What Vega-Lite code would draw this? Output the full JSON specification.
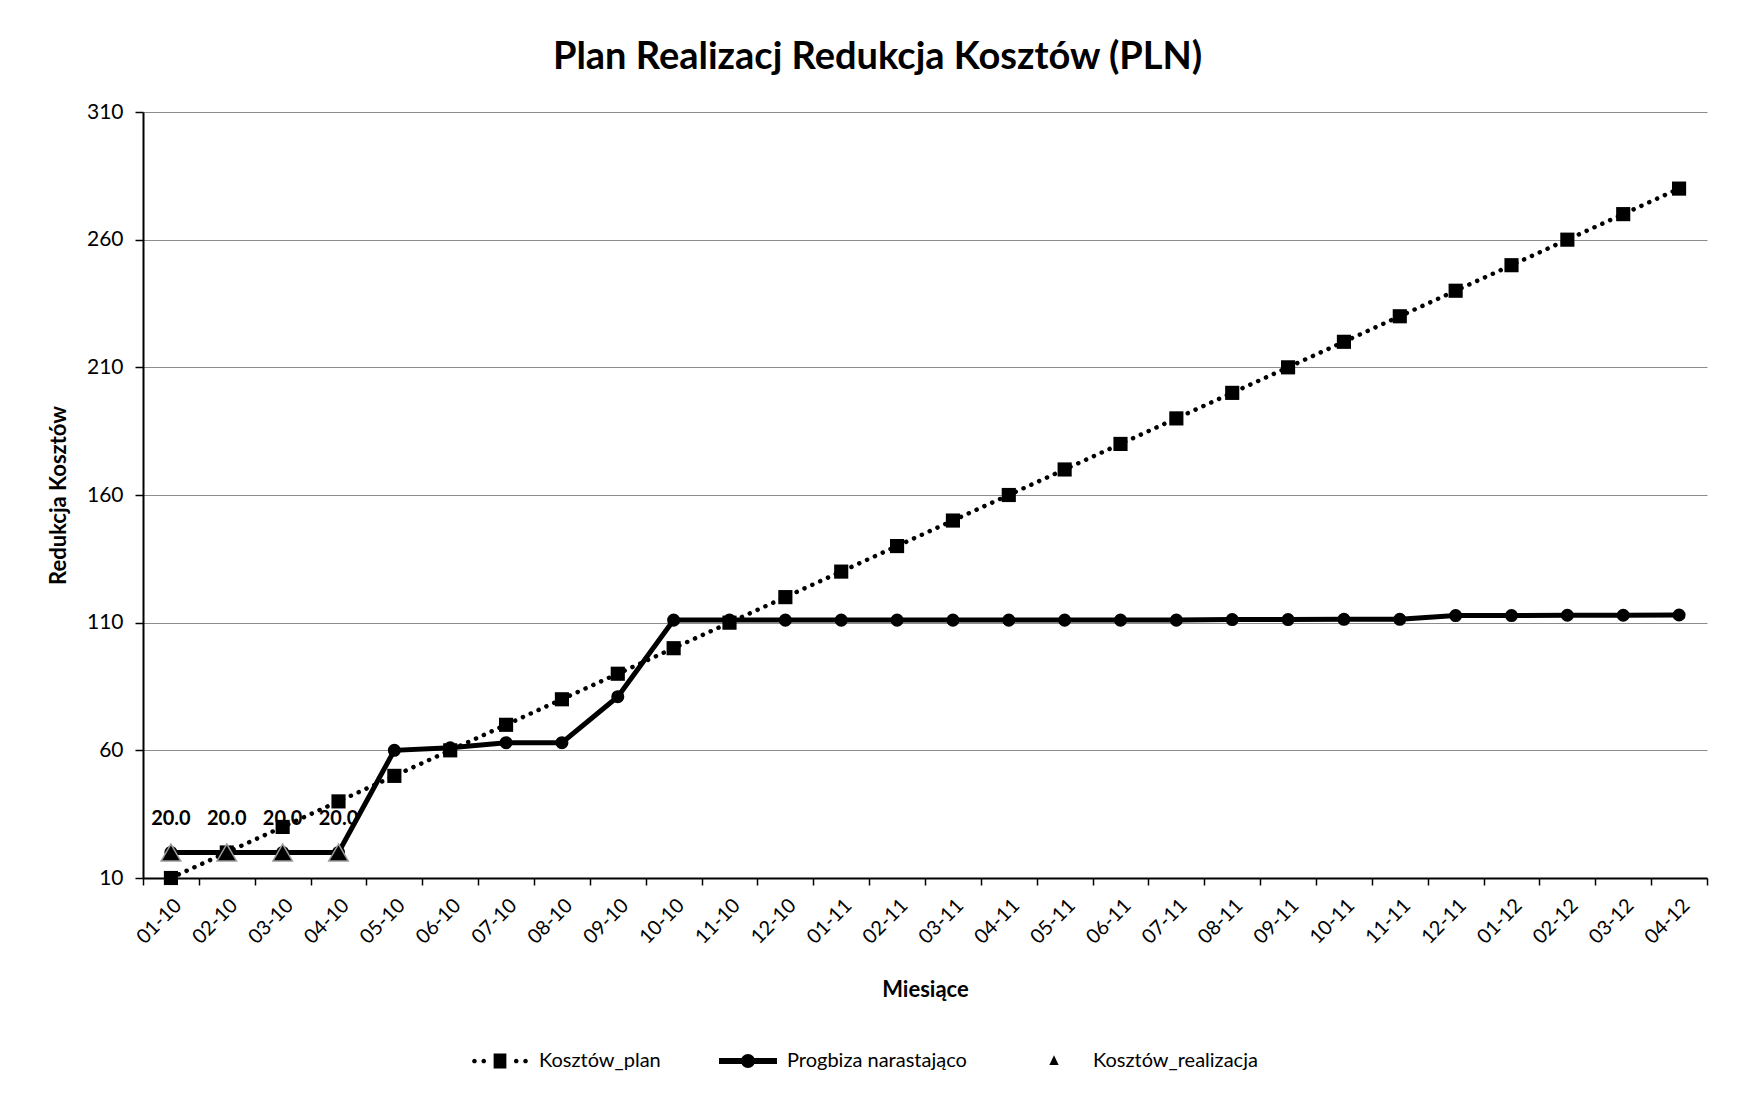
{
  "$schema": "https://vega.github.io/schema/vega-lite/v6.json",
  "width": 1564,
  "height": 766,
  "autosize": {"type": "none"},
  "padding": {"left": 143, "top": 112, "right": 30, "bottom": 217},
  "background": "white",
  "config": {
    "font": "Lato",
    "view": {"stroke": null},
    "axis": {"labelColor": "black", "titleColor": "black", "domainColor": "black", "tickColor": "black", "labelFont": "Lato", "titleFont": "Lato"}
  },
  "title": {
    "text": "Plan Realizacj Redukcja Kosztów (PLN)",
    "font": "Lato",
    "fontSize": 38,
    "fontWeight": "bold",
    "color": "black",
    "anchor": "middle",
    "frame": "bounds",
    "offset": 24
  },
  "data": {
    "values": [
      {"month": "01-10", "plan": 10, "prog": 20, "real": 20},
      {"month": "02-10", "plan": 20, "prog": 20, "real": 20},
      {"month": "03-10", "plan": 30, "prog": 20, "real": 20},
      {"month": "04-10", "plan": 40, "prog": 20, "real": 20},
      {"month": "05-10", "plan": 50, "prog": 60, "real": null},
      {"month": "06-10", "plan": 60, "prog": 61, "real": null},
      {"month": "07-10", "plan": 70, "prog": 63, "real": null},
      {"month": "08-10", "plan": 80, "prog": 63, "real": null},
      {"month": "09-10", "plan": 90, "prog": 81, "real": null},
      {"month": "10-10", "plan": 100, "prog": 111, "real": null},
      {"month": "11-10", "plan": 110, "prog": 111, "real": null},
      {"month": "12-10", "plan": 120, "prog": 111, "real": null},
      {"month": "01-11", "plan": 130, "prog": 111, "real": null},
      {"month": "02-11", "plan": 140, "prog": 111, "real": null},
      {"month": "03-11", "plan": 150, "prog": 111, "real": null},
      {"month": "04-11", "plan": 160, "prog": 111, "real": null},
      {"month": "05-11", "plan": 170, "prog": 111, "real": null},
      {"month": "06-11", "plan": 180, "prog": 111, "real": null},
      {"month": "07-11", "plan": 190, "prog": 111, "real": null},
      {"month": "08-11", "plan": 200, "prog": 111.2, "real": null},
      {"month": "09-11", "plan": 210, "prog": 111.2, "real": null},
      {"month": "10-11", "plan": 220, "prog": 111.3, "real": null},
      {"month": "11-11", "plan": 230, "prog": 111.3, "real": null},
      {"month": "12-11", "plan": 240, "prog": 112.8, "real": null},
      {"month": "01-12", "plan": 250, "prog": 112.8, "real": null},
      {"month": "02-12", "plan": 260, "prog": 112.9, "real": null},
      {"month": "03-12", "plan": 270, "prog": 112.9, "real": null},
      {"month": "04-12", "plan": 280, "prog": 113, "real": null}
    ]
  },
  "encoding": {
    "x": {
      "field": "month",
      "type": "ordinal",
      "sort": null,
      "bandPosition": 0.5,
      "scale": {"type": "band", "paddingInner": 0, "paddingOuter": 0},
      "axis": {
        "title": "Miesiące",
        "labelAngle": -45,
        "tickBand": "extent",
        "domainWidth": 2,
        "tickWidth": 1.5,
        "tickSize": 7,
        "labelFontSize": 20,
        "labelPadding": 10,
        "titleFontSize": 22,
        "titleFontWeight": "bold",
        "titlePadding": 32,
        "grid": false
      }
    }
  },
  "layer": [
    {
      "mark": {"type": "line", "color": "black", "strokeWidth": 4.5, "strokeDash": [0.1, 8.5], "strokeCap": "round"},
      "encoding": {
        "y": {
          "field": "plan",
          "type": "quantitative",
          "title": "Redukcja Kosztów",
          "scale": {"domain": [10, 310], "nice": false, "zero": false},
          "axis": {
            "values": [10, 60, 110, 160, 210, 260, 310],
            "grid": true,
            "gridColor": "#8c8c8c",
            "gridWidth": 1,
            "domainWidth": 2,
            "tickWidth": 1.5,
            "tickSize": 8,
            "labelFontSize": 21,
            "labelPadding": 12,
            "titleFontSize": 22,
            "titleFontWeight": "bold",
            "titlePadding": 16
          }
        }
      }
    },
    {
      "mark": {"type": "point", "shape": "square", "filled": true, "color": "black", "opacity": 1, "size": 200},
      "encoding": {"y": {"field": "plan", "type": "quantitative", "title": "Redukcja Kosztów"}}
    },
    {
      "mark": {"type": "line", "color": "black", "strokeWidth": 5},
      "encoding": {"y": {"field": "prog", "type": "quantitative", "title": "Redukcja Kosztów"}}
    },
    {
      "mark": {"type": "point", "shape": "circle", "filled": true, "color": "black", "opacity": 1, "size": 170},
      "encoding": {"y": {"field": "prog", "type": "quantitative", "title": "Redukcja Kosztów"}}
    },
    {
      "mark": {"type": "point", "shape": "triangle-up", "filled": true, "fill": "black", "stroke": "#9a9a9a", "strokeWidth": 1.5, "opacity": 1, "size": 380},
      "encoding": {"y": {"field": "real", "type": "quantitative", "title": "Redukcja Kosztów"}}
    },
    {
      "mark": {"type": "text", "fontWeight": "bold", "fontSize": 20, "dy": -33, "color": "black", "font": "Lato"},
      "encoding": {
        "y": {"field": "real", "type": "quantitative", "title": "Redukcja Kosztów"},
        "text": {"field": "real", "type": "quantitative", "format": ".1f"}
      }
    },
    {
      "transform": [{"fold": ["plan", "prog", "real"], "as": ["series", "val"]}],
      "mark": {"type": "point", "filled": true, "color": "black", "opacity": 0, "size": 10},
      "encoding": {
        "y": {"field": "val", "type": "quantitative", "title": "Redukcja Kosztów"},
        "shape": {
          "field": "series",
          "type": "nominal",
          "scale": {
            "domain": ["plan", "prog", "real"],
            "range": [
              "M-0.96,0A0.08,0.08,0,1,1,-0.8,0A0.08,0.08,0,1,1,-0.96,0ZM-0.64,0A0.08,0.08,0,1,1,-0.48,0A0.08,0.08,0,1,1,-0.64,0ZM-0.22,-0.26H0.22V0.26H-0.22ZM0.48,0A0.08,0.08,0,1,1,0.64,0A0.08,0.08,0,1,1,0.48,0ZM0.8,0A0.08,0.08,0,1,1,0.96,0A0.08,0.08,0,1,1,0.8,0Z",
              "M-1,-0.1H1V0.1H-1ZM-0.24,0A0.24,0.24,0,1,1,0.24,0A0.24,0.24,0,1,1,-0.24,0Z",
              "M0,-0.2L0.16,0.14L-0.16,0.14Z"
            ]
          },
          "legend": {
            "orient": "none",
            "legendX": 328,
            "legendY": 920,
            "direction": "horizontal",
            "title": null,
            "symbolSize": 3364,
            "symbolFillColor": "black",
            "symbolStrokeColor": "black",
            "symbolStrokeWidth": 0,
            "symbolOpacity": 1,
            "labelFontSize": 20,
            "labelLimit": 0,
            "labelColor": "black",
            "labelFont": "Lato",
            "labelOffset": 10,
            "columnPadding": 58,
            "labelExpr": "datum.label == 'plan' ? 'Kosztów_plan' : datum.label == 'prog' ? 'Progbiza narastająco' : 'Kosztów_realizacja'"
          }
        }
      }
    }
  ]
}
